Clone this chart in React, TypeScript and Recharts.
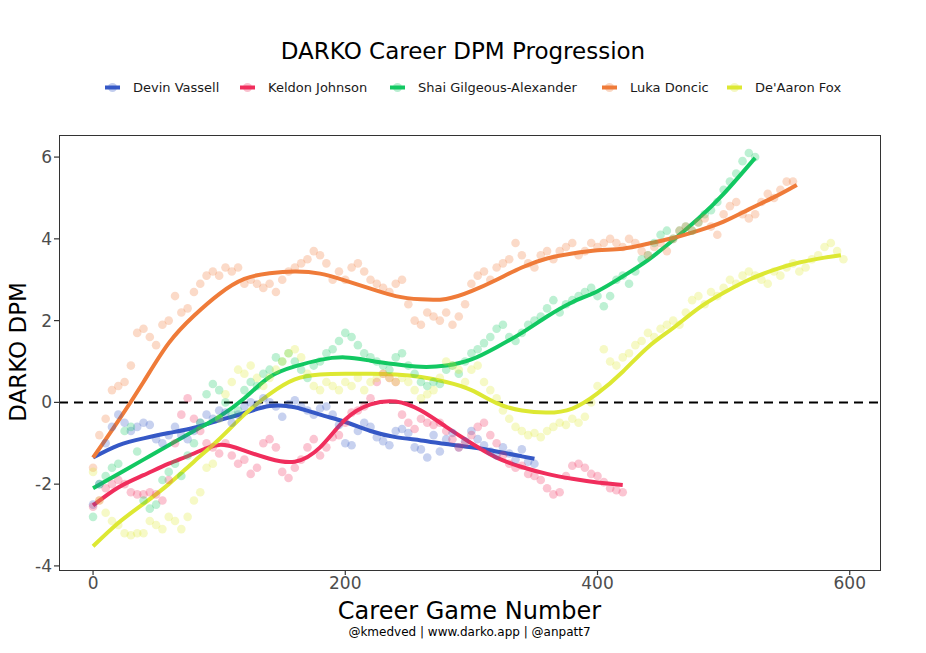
import {
  ComposedChart,
  Line,
  ReferenceLine,
  Scatter,
  XAxis,
  YAxis,
} from "recharts";

// game numbers for the per-game dots (one dot per 5 games)
const gameNumbers = [
  0, 5, 10, 15, 20, 25, 30, 35, 40, 45, 50, 55, 60, 65, 70, 75, 80, 85, 90, 95,
  100, 105, 110, 115, 120, 125, 130, 135, 140, 145, 150, 155, 160, 165, 170, 175, 180, 185, 190, 195,
  200, 205, 210, 215, 220, 225, 230, 235, 240, 245, 250, 255, 260, 265, 270, 275, 280, 285, 290, 295,
  300, 305, 310, 315, 320, 325, 330, 335, 340, 345, 350, 355, 360, 365, 370, 375, 380, 385, 390, 395,
  400, 405, 410, 415, 420, 425, 430, 435, 440, 445, 450, 455, 460, 465, 470, 475, 480, 485, 490, 495,
  500, 505, 510, 515, 520, 525, 530, 535, 540, 545, 550, 555, 560, 565, 570, 575, 580, 585, 590, 595,
];

const vassellDpm = [
  -2.5, -2.0, -1.0, -0.6, -0.3, -0.5, -0.7, -0.6, -0.5, -0.55, -0.9, -1.0, -0.8, -0.6, -0.8, -0.9, -0.7, -0.5, -0.3, -0.4,
  -0.2, -0.25, -0.5, -0.3, -0.1, 0.0, -0.05, 0.1, 0.0, -0.1, -0.35, -0.05, 0.05, -0.1, -0.2, -0.3, -0.15, -0.1, -0.3, -0.55,
  -1.0, -1.05, -0.7, -0.5, -0.6, -0.85, -0.95, -1.05, -0.7, -0.65, -0.75, -1.1, -1.15, -1.35, -0.8, -1.2, -0.9, -0.75, -1.1, -0.95,
  -0.7, -0.9, -1.05, -1.2, -1.3, -1.1, -1.25, -1.4, -1.15, -1.45, -1.5,
];

const johnsonDpm = [
  -2.55, -2.4, -2.1, -2.0, -1.9, -2.0, -2.2, -2.25, -2.25, -2.2, -2.25, -2.4, -1.9, -1.0, -0.3, 0.1, -0.4, -0.7, -1.0, -1.1,
  -1.25, -1.0, -1.3, -1.5, -1.4, -1.75, -1.6, -1.0, -0.9, -1.1, -1.7, -1.85, -1.6, -1.4, -1.1, -0.9, -1.3, -1.1, -0.85, -0.8,
  -0.5, -0.25, -0.2, -0.1, 0.1, 0.5, 0.7, 0.6, 0.5, -0.3, -0.5, -0.65, -0.4, -0.5, -0.55, -0.5, -0.7, -0.9, -1.1, -1.0,
  -0.8, -0.6, -0.5, -0.8, -1.0, -1.3, -1.5, -1.6, -1.55, -1.75, -1.8, -1.9, -2.1, -2.25, -2.2, -1.8, -1.55, -1.5, -1.6, -1.75,
  -1.8, -1.95, -2.1, -2.15, -2.2,
];

const sgaDpm = [
  -2.8, -2.0, -1.8, -1.6, -1.5, -0.7, -0.6, -1.2, -2.4, -2.6, -2.5, -1.9, -1.7, -1.5, -1.8, -1.3, -1.0, -0.5, 0.2, 0.45,
  0.3, 0.0, -0.3, -0.2, 0.3, 0.5, 0.4, 0.7, 0.8, 1.1, 1.0, 1.2, 1.0, 0.8, 0.6, 0.9, 1.0, 1.2, 1.3, 1.5,
  1.7, 1.6, 1.4, 1.2, 1.1, 1.0, 0.9, 0.8, 1.1, 1.2, 0.9, 0.7, 0.5, 0.4, 0.5, 0.45, 0.8, 0.9, 0.7, 1.0,
  1.2, 1.3, 1.45, 1.6, 1.8, 1.9, 1.6, 1.5, 1.7, 1.9, 2.0, 2.1, 2.3, 2.5, 2.2, 2.4, 2.5, 2.6, 2.7, 2.8,
  2.6, 2.35, 2.6, 3.0, 3.1, 2.9, 3.2, 3.5, 3.6, 3.9, 4.1, 4.2, 4.0, 4.2, 4.3, 4.2, 4.4, 4.6, 4.7, 4.9,
  5.2, 5.4, 5.6, 5.9, 6.1, 6.0,
];

const lukaDpm = [
  -1.6, -0.8, -0.4, 0.3, 0.4, 0.5, 0.9, 1.7, 1.8, 1.6, 1.4, 1.9, 2.0, 2.6, 2.2, 2.3, 2.7, 2.9, 3.1, 3.2,
  3.1, 3.3, 3.2, 3.3, 2.9, 3.0, 2.9, 2.8, 2.9, 2.7, 3.0, 3.2, 3.3, 3.4, 3.5, 3.7, 3.6, 3.4, 3.0, 3.2,
  3.0, 3.3, 3.4, 3.2, 3.0, 2.9, 2.8, 2.7, 2.9, 3.0, 2.4, 2.0, 1.9, 2.2, 2.1, 2.0, 2.2, 1.9, 2.1, 2.4,
  2.9, 3.1, 3.2, 3.0, 3.3, 3.4, 3.5, 3.9, 3.6, 3.4, 3.3, 3.6, 3.7, 3.5, 3.7, 3.8, 3.9, 3.6, 3.7, 3.9,
  3.8, 3.9, 4.0, 3.9, 3.8, 4.0, 3.9, 3.7, 3.6, 3.8, 3.9, 3.7, 4.0, 4.2, 4.3, 4.2, 4.4, 4.5, 4.3, 4.1,
  4.6, 4.8, 4.9, 4.6, 4.5, 4.6, 4.9, 5.1, 5.0, 5.2, 5.4, 5.4,
];

const foxDpm = [
  -1.7, -2.4, -2.7, -2.9, -3.0, -3.2, -3.25, -3.2, -3.2, -2.9, -3.0, -3.1, -2.8, -2.9, -3.1, -2.8, -2.4, -2.2, -1.6, -1.5,
  -0.4, 0.2, 0.5, 0.8, 0.7, 0.9, 0.6, 0.4, 0.6, 0.8, 1.0, 1.2, 1.3, 1.1, 0.7, 0.4, 0.3, 0.5, 0.4, 0.3,
  0.5, 0.4, 0.6, 0.3, 0.5, 0.6, 0.7, 0.6, 0.5, 0.6, 0.5, 0.3, 0.1, 0.2, 0.3, 0.6, 1.0, 0.9, 0.8, 0.5,
  0.8, 0.9, 0.5, 0.3, 0.1, -0.2, -0.4, -0.6, -0.7, -0.8, -0.75, -0.85, -0.7, -0.6, -0.5, -0.55, -0.4, -0.5, -0.35, 0.0,
  0.4, 1.3, 1.0, 0.9, 1.1, 1.2, 1.4, 1.5, 1.7, 1.6, 1.8, 1.9, 2.0, 1.9, 2.2, 2.5, 2.6, 2.4, 2.7, 2.6,
  2.8, 3.0, 2.9, 3.1, 3.2, 3.1, 3.0, 2.9, 3.2, 3.1, 3.3, 3.4, 3.2, 3.3, 3.5, 3.6, 3.8, 3.9, 3.7, 3.5,
];

// smoothed trend lines: [game, dpm]
const vassellTrend = [
  [0, -1.35], [20, -1.05], [40, -0.88], [60, -0.75], [80, -0.62], [100, -0.44], [120, -0.26], [140, -0.09],
  [160, -0.12], [180, -0.3], [200, -0.48], [220, -0.7], [240, -0.85], [260, -0.93], [280, -1.02], [300, -1.1],
  [320, -1.2], [340, -1.32], [350, -1.38],
];
const johnsonTrend = [
  [0, -2.52], [20, -2.08], [40, -1.78], [60, -1.5], [80, -1.25], [100, -1.04], [120, -1.18], [140, -1.38],
  [160, -1.45], [180, -1.1], [200, -0.42], [220, -0.05], [240, 0.02], [260, -0.2], [280, -0.6], [300, -1.0],
  [320, -1.35], [340, -1.58], [360, -1.75], [380, -1.87], [400, -1.96], [420, -2.02],
];
const sgaTrend = [
  [0, -2.1], [20, -1.75], [40, -1.4], [60, -1.05], [80, -0.7], [100, -0.35], [120, 0.1], [140, 0.62],
  [160, 0.88], [180, 1.04], [200, 1.1], [220, 1.02], [240, 0.93], [260, 0.87], [280, 0.9], [300, 1.05],
  [320, 1.35], [340, 1.7], [360, 2.1], [380, 2.45], [400, 2.72], [420, 3.08], [440, 3.48], [460, 3.97],
  [480, 4.5], [500, 5.1], [525, 5.98],
];
const lukaTrend = [
  [0, -1.35], [20, -0.45], [40, 0.5], [60, 1.45], [80, 2.12], [100, 2.65], [120, 3.02], [140, 3.16],
  [160, 3.2], [180, 3.15], [200, 2.98], [220, 2.78], [240, 2.6], [260, 2.52], [280, 2.53], [300, 2.72],
  [320, 3.0], [340, 3.3], [360, 3.52], [380, 3.64], [400, 3.72], [420, 3.76], [440, 3.88], [460, 4.02],
  [480, 4.2], [500, 4.42], [520, 4.72], [540, 5.02], [558, 5.32],
];
const foxTrend = [
  [0, -3.52], [20, -2.95], [40, -2.48], [60, -2.0], [80, -1.45], [100, -0.9], [120, -0.3], [140, 0.2],
  [160, 0.56], [180, 0.68], [200, 0.7], [220, 0.7], [240, 0.68], [260, 0.62], [280, 0.5], [300, 0.3],
  [320, -0.02], [340, -0.2], [360, -0.25], [380, -0.15], [400, 0.22], [420, 0.75], [440, 1.35], [460, 1.82],
  [480, 2.3], [500, 2.68], [520, 3.0], [540, 3.24], [560, 3.42], [580, 3.54], [593, 3.6],
];

const players = [
  { name: "Devin Vassell", color: "#3558c6", dots: vassellDpm, trend: vassellTrend },
  { name: "Keldon Johnson", color: "#f02d5c", dots: johnsonDpm, trend: johnsonTrend },
  { name: "Shai Gilgeous-Alexander", color: "#12c862", dots: sgaDpm, trend: sgaTrend },
  { name: "Luka Doncic", color: "#ef7b39", dots: lukaDpm, trend: lukaTrend },
  { name: "De'Aaron Fox", color: "#dde833", dots: foxDpm, trend: foxTrend },
];

const xTicks = [0, 200, 400, 600];
const yTicks = [-4, -2, 0, 2, 4, 6];

const legendLeft = [104, 239, 389, 601, 726];

const font = "'DejaVu Sans', sans-serif";

export default function App() {
  return (
    <div
      style={{
        position: "absolute",
        left: 0,
        top: 0,
        width: 926,
        height: 653,
        background: "#fff",
        fontFamily: font,
      }}
    >
      <div
        style={{
          position: "absolute",
          left: 0,
          width: 926,
          top: 38,
          textAlign: "center",
          fontSize: 23,
          color: "#000",
        }}
      >
        DARKO Career DPM Progression
      </div>

      {players.map((p, i) => (
        <div
          key={p.name}
          style={{
            position: "absolute",
            left: legendLeft[i],
            top: 78,
            height: 18,
            display: "flex",
            alignItems: "center",
            fontSize: 13,
            color: "#1a1a1a",
            whiteSpace: "nowrap",
          }}
        >
          <svg width={17} height={17} style={{ marginRight: 12 }}>
            <circle cx={8.5} cy={8.5} r={4.5} fill={p.color} fillOpacity={0.3} />
            <line x1={1} y1={8.5} x2={16} y2={8.5} stroke={p.color} strokeWidth={4} />
          </svg>
          {p.name}
        </div>
      ))}

      <ComposedChart
        width={926}
        height={653}
        margin={{ top: 135, right: 46, bottom: 53, left: 0 }}
        style={{ position: "absolute", left: 0, top: 0 }}
      >
        <XAxis
          dataKey="g"
          type="number"
          domain={[-27, 624]}
          ticks={xTicks}
          allowDataOverflow
          axisLine={false}
          tickLine={{ stroke: "#333", strokeWidth: 1.2 }}
          tickSize={5}
          tick={{ fill: "#4d4d4d", fontSize: 17, fontFamily: font }}
          height={30}
          interval={0}
        />
        <YAxis
          dataKey="v"
          type="number"
          domain={[-4.1, 6.54]}
          ticks={yTicks}
          allowDataOverflow
          axisLine={false}
          tickLine={{ stroke: "#333", strokeWidth: 1.2 }}
          tickSize={5}
          tick={{ fill: "#4d4d4d", fontSize: 17, fontFamily: font }}
          width={59}
          interval={0}
        />
        {players.map((p) => (
          <Scatter
            key={`dots-${p.name}`}
            data={p.dots.map((v, i) => ({ g: gameNumbers[i], v }))}
            dataKey="v"
            isAnimationActive={false}
            shape={(props: any) => (
              <circle cx={props.cx} cy={props.cy} r={4.3} fill={p.color} fillOpacity={0.28} />
            )}
          />
        ))}
        <ReferenceLine y={0} stroke="#000" strokeWidth={2} strokeDasharray="9 6" />
        {players.map((p) => (
          <Line
            key={`trend-${p.name}`}
            data={p.trend.map(([g, v]) => ({ g, v }))}
            dataKey="v"
            type="natural"
            stroke={p.color}
            strokeWidth={4}
            dot={false}
            activeDot={false}
            isAnimationActive={false}
          />
        ))}
      </ComposedChart>

      <div
        style={{
          position: "absolute",
          left: 59,
          top: 135,
          width: 820,
          height: 434,
          border: "1px solid #333",
          pointerEvents: "none",
        }}
      />

      <div
        style={{
          position: "absolute",
          left: 59,
          width: 821,
          top: 597,
          textAlign: "center",
          fontSize: 24,
          color: "#000",
        }}
      >
        Career Game Number
      </div>
      <div
        style={{
          position: "absolute",
          left: 59,
          width: 821,
          top: 625,
          textAlign: "center",
          fontSize: 12,
          color: "#000",
        }}
      >
        @kmedved | www.darko.app | @anpatt7
      </div>
      <div
        style={{
          position: "absolute",
          left: 18,
          top: 352,
          transform: "translate(-50%, -50%) rotate(-90deg)",
          fontSize: 23,
          color: "#000",
          whiteSpace: "nowrap",
        }}
      >
        DARKO DPM
      </div>
    </div>
  );
}
